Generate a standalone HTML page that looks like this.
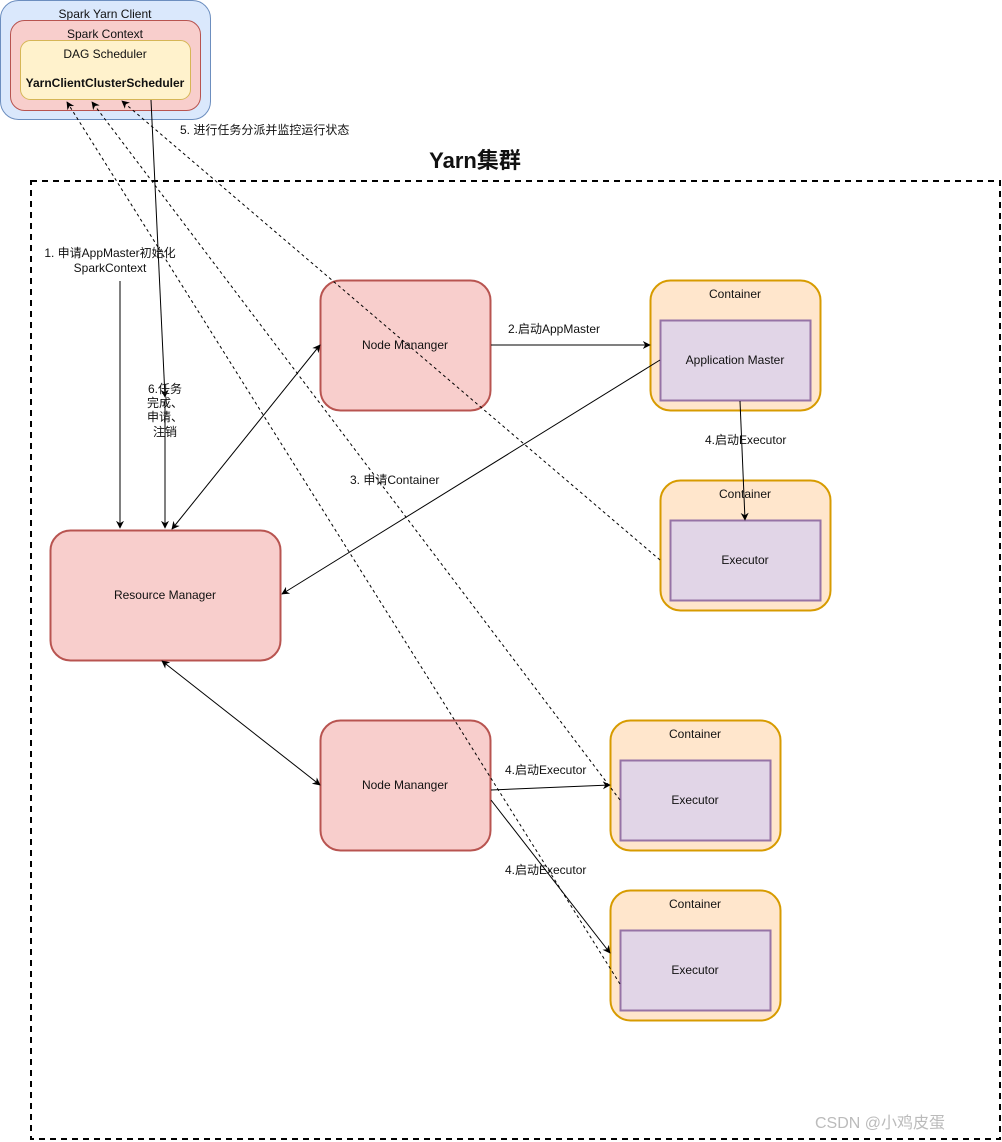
<!DOCTYPE html>
<html><head><meta charset="utf-8"><style>
html,body{margin:0;padding:0;background:#fff;}
svg{display:block;}
text{font-family:"Liberation Sans","Noto Sans CJK SC",sans-serif;font-size:12px;fill:#111;}
</style></head><body>
<svg width="1002" height="1142" viewBox="0 0 1002 1142" xmlns="http://www.w3.org/2000/svg">
<defs>
<marker id="a" viewBox="0 0 10 10" refX="9" refY="5" markerWidth="8" markerHeight="8" orient="auto-start-reverse" markerUnits="userSpaceOnUse"><path d="M0,0 L10,5 L0,10 L3,5 z" fill="#000"/></marker>
</defs>
<!-- client -->
<rect x="0.5" y="0.5" width="210" height="119" rx="18" fill="#dae8fc" stroke="#6c8ebf"/>
<text x="105" y="18" text-anchor="middle">Spark Yarn Client</text>
<rect x="10.5" y="20.5" width="190" height="90" rx="14" fill="#f8cecc" stroke="#b85450"/>
<text x="105" y="38" text-anchor="middle">Spark Context</text>
<rect x="20.5" y="40.5" width="170" height="59" rx="10" fill="#fff2cc" stroke="#d6b656"/>
<text x="105" y="58" text-anchor="middle">DAG Scheduler</text>
<text x="105" y="87" text-anchor="middle" font-weight="bold">YarnClientClusterScheduler</text>
<text x="180" y="134">5. 进行任务分派并监控运行状态</text>
<!-- cluster -->
<text x="475" y="168" text-anchor="middle" font-size="22" font-weight="bold" style="font-size:22px">Yarn集群</text>
<rect x="31" y="181" width="969" height="958" fill="none" stroke="#000" stroke-width="2" stroke-dasharray="6,5"/>
<!-- nodes -->
<rect x="320.5" y="280.5" width="170" height="130" rx="20" fill="#f8cecc" stroke="#b85450" stroke-width="2"/>
<text x="405" y="349" text-anchor="middle">Node Mananger</text>
<rect x="50.5" y="530.5" width="230" height="130" rx="20" fill="#f8cecc" stroke="#b85450" stroke-width="2"/>
<text x="165" y="599" text-anchor="middle">Resource Manager</text>
<rect x="320.5" y="720.5" width="170" height="130" rx="20" fill="#f8cecc" stroke="#b85450" stroke-width="2"/>
<text x="405" y="789" text-anchor="middle">Node Mananger</text>

<rect x="650.5" y="280.5" width="170" height="130" rx="20" fill="#ffe6cc" stroke="#d79b00" stroke-width="2"/>
<text x="735" y="298" text-anchor="middle">Container</text>
<rect x="660.5" y="320.5" width="150" height="80" fill="#e1d5e7" stroke="#9673a6" stroke-width="2"/>
<text x="735" y="364" text-anchor="middle">Application Master</text>

<rect x="660.5" y="480.5" width="170" height="130" rx="20" fill="#ffe6cc" stroke="#d79b00" stroke-width="2"/>
<text x="745" y="498" text-anchor="middle">Container</text>
<rect x="670.5" y="520.5" width="150" height="80" fill="#e1d5e7" stroke="#9673a6" stroke-width="2"/>
<text x="745" y="564" text-anchor="middle">Executor</text>

<rect x="610.5" y="720.5" width="170" height="130" rx="20" fill="#ffe6cc" stroke="#d79b00" stroke-width="2"/>
<text x="695" y="738" text-anchor="middle">Container</text>
<rect x="620.5" y="760.5" width="150" height="80" fill="#e1d5e7" stroke="#9673a6" stroke-width="2"/>
<text x="695" y="804" text-anchor="middle">Executor</text>

<rect x="610.5" y="890.5" width="170" height="130" rx="20" fill="#ffe6cc" stroke="#d79b00" stroke-width="2"/>
<text x="695" y="908" text-anchor="middle">Container</text>
<rect x="620.5" y="930.5" width="150" height="80" fill="#e1d5e7" stroke="#9673a6" stroke-width="2"/>
<text x="695" y="974" text-anchor="middle">Executor</text>

<!-- dashed lines -->
<g stroke="#000" stroke-dasharray="3,3" fill="none" stroke-width="1">
<line x1="620" y1="984" x2="67" y2="102" marker-end="url(#a)"/>
<line x1="620" y1="800" x2="92" y2="102" marker-end="url(#a)"/>
<line x1="660" y1="560" x2="122" y2="101" marker-end="url(#a)"/>
</g>
<!-- solid edges -->
<g stroke="#000" fill="none" stroke-width="1">
<line x1="151" y1="100" x2="165" y2="397" marker-end="url(#a)"/>
<line x1="165" y1="400" x2="165" y2="528" marker-end="url(#a)"/>
<line x1="120" y1="281" x2="120" y2="528" marker-end="url(#a)"/>
<line x1="172" y1="529" x2="320" y2="345" marker-start="url(#a)" marker-end="url(#a)"/>
<line x1="491" y1="345" x2="650" y2="345" marker-end="url(#a)"/>
<line x1="660" y1="360" x2="282" y2="594" marker-end="url(#a)"/>
<line x1="740" y1="401" x2="745" y2="520" marker-end="url(#a)"/>
<line x1="162" y1="661" x2="320" y2="785" marker-start="url(#a)" marker-end="url(#a)"/>
<line x1="491" y1="790" x2="610" y2="785" marker-end="url(#a)"/>
<line x1="491" y1="800" x2="610" y2="953" marker-end="url(#a)"/>
</g>
<!-- labels -->
<text x="110" y="257" text-anchor="middle">1. 申请AppMaster初始化</text>
<text x="110" y="272" text-anchor="middle">SparkContext</text>
<text x="148" y="393">6.任务</text>
<text x="147" y="407">完成、</text>
<text x="147" y="421">申请、</text>
<text x="153" y="436">注销</text>
<text x="508" y="333">2.启动AppMaster</text>
<text x="350" y="484">3. 申请Container</text>
<text x="705" y="444">4.启动Executor</text>
<text x="505" y="774">4.启动Executor</text>
<text x="505" y="874">4.启动Executor</text>
<text x="815" y="1128" style="font-size:16px;fill:#bbb">CSDN @小鸡皮蛋</text>
</svg>
</body></html>
